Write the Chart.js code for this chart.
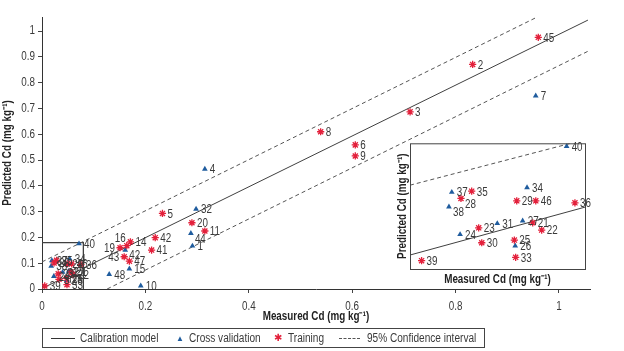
<!DOCTYPE html>
<html>
<head>
<meta charset="utf-8">
<script src="https://cdn.jsdelivr.net/npm/chart.js@4.4.1/dist/chart.umd.min.js"></script>
<style>
  html, body { margin: 0; padding: 0; background: #fff; }
  #wrap { position: relative; width: 624px; height: 351px; overflow: hidden;
          font-family: 'Liberation Sans', Arial, sans-serif; color: #3a3a3a; }
  #main  { position: absolute; left: 0; top: 0; }
  #inset { position: absolute; left: 392px; top: 138px; }
  #legend { position: absolute; left: 42px; top: 328px; width: 443px; height: 20px;
            box-sizing: border-box; border: 1px solid #444; font-size: 12px; }
  #legend span { position: absolute; top: 2px; line-height: 14px; white-space: nowrap; }
  #legend .txt { transform: scaleX(0.84); transform-origin: left center; }
  #legend .ln  { top: 9px; height: 0; border-top: 1px solid #333; }
  #legend .dsh { top: 9px; height: 0; border-top: 1px dashed #555; }
  #legend .tri { color: #1f5c9e; font-size: 8px; top: 3px; }
  #legend .ast { color: #e3203b; font-size: 10px; top: 2px; }
</style>
</head>
<body>
<div id="wrap">
  <canvas id="main" width="624" height="351"></canvas>
  <canvas id="inset" width="208" height="154"></canvas>
  <div id="legend">
    <span class="ln" style="left:8px;width:24px"></span><span class="txt" style="left:37px">Calibration model</span>
    <span class="tri" style="left:133px">▲</span><span class="txt" style="left:146px">Cross validation</span>
    <span class="ast" style="left:231px">✱</span><span class="txt" style="left:245px">Training</span>
    <span class="dsh" style="left:296px;width:21px"></span><span class="txt" style="left:324px">95% Confidence interval</span>
  </div>
</div>
<script>
// ── Data ────────────────────────────────────────────────────────────────
// Training samples (red asterisks), outside the low-value cluster
const TRAIN_ID = [45, 2, 3, 8, 6, 9, 5, 20, 11, 42, 41, 14, 16, 19, 43, 47];
const TRAIN_X  = [0.960, 0.833, 0.712, 0.539, 0.606, 0.606, 0.233, 0.290, 0.315, 0.219, 0.212, 0.171, 0.164, 0.151, 0.159, 0.169];
const TRAIN_Y  = [0.976, 0.871, 0.687, 0.610, 0.559, 0.516, 0.293, 0.257, 0.225, 0.199, 0.151, 0.183, 0.168, 0.160, 0.125, 0.108];

// Cross validation samples (blue triangles), outside the cluster
const CV_ID = [7, 4, 32, 44, 1, 42, 15, 48, 10];
const CV_X  = [0.955, 0.315, 0.298, 0.288, 0.291, 0.161, 0.169, 0.130, 0.191];
const CV_Y  = [0.749, 0.465, 0.310, 0.216, 0.167, 0.151, 0.078, 0.057, 0.012];

// Low-value cluster (shown enlarged in the inset)
const LOW_TRAIN_ID = [35, 28, 29, 46, 36, 21, 22, 23, 30, 25, 33, 39];
const LOW_TRAIN_X  = [0.0282, 0.0233, 0.0488, 0.0575, 0.0754, 0.0561, 0.0602, 0.0314, 0.0328, 0.0477, 0.0483, 0.0053];
const LOW_TRAIN_Y  = [0.1114, 0.1010, 0.0976, 0.0976, 0.0947, 0.0661, 0.0557, 0.0590, 0.0376, 0.0414, 0.0167, 0.0119];
const LOW_CV_ID = [40, 37, 38, 34, 27, 31, 24, 26];
const LOW_CV_X  = [0.0716, 0.0191, 0.0178, 0.0535, 0.0515, 0.0399, 0.0229, 0.0481];
const LOW_CV_Y  = [0.1757, 0.1100, 0.0890, 0.1167, 0.0690, 0.0652, 0.0495, 0.0333];

// Model lines [x, y] end points
const CAL_LINE   = [[0, 0.002], [1.056, 1.043]];
const UPPER_CI   = [[0, 0.105], [0.955, 1.052]];
const LOWER_CI   = [[0.126, 0], [1.06, 0.926]];
const ZOOM_BOX   = [[0, 0.18], [0.08, 0.18], [0.08, 0]];
const INSET_CAL  = [[0, 0.020], [0.08, 0.0886]];
const INSET_UCI  = [[0, 0.120], [0.0735, 0.18]];

const X_TICKS = [0, 0.2, 0.4, 0.6, 0.8, 1];
const Y_TICKS = [0, 0.1, 0.2, 0.3, 0.4, 0.5, 0.6, 0.7, 0.8, 0.9, 1];

// ── Style ───────────────────────────────────────────────────────────────
const FONT = "'Liberation Sans', Arial, sans-serif";
const NARROW = 0.82;          // squeeze text to look like Arial Narrow
const INK  = '#3a3a3a';
const RED  = '#e3203b';
const BLUE = '#1f5c9e';
const AXIS_TITLE = 'Measured Cd (mg kg⁻¹)';
const Y_TITLE    = 'Predicted Cd (mg kg⁻¹)';

// label placement: [dx, dy, align]
const SIDE = {
  r:  [5, 1, 'left'],
  dr: [4, 6, 'left'],
  l:  [-5, 1, 'right'],
  ul: [-1, -7, 'right'],
};
const MAIN_SIDES  = { T16: 'ul', T19: 'l', T43: 'l', C44: 'dr', C42: 'dr' };
const INSET_SIDES = { T28: 'dr', C38: 'dr' };

const pts = (xs, ys) => xs.map((x, i) => ({ x, y: ys[i] }));
const seg = arr => arr.map(([x, y]) => ({ x, y }));

function trainSet(ids, xs, ys) {
  return { ids, tag: 'T', data: pts(xs, ys), pointStyle: 'star', pointRadius: 3.6,
           borderColor: RED, backgroundColor: RED, pointBorderWidth: 1.3, showLine: false, order: 0 };
}
function cvSet(ids, xs, ys) {
  return { ids, tag: 'C', data: pts(xs, ys), pointStyle: 'triangle', pointRadius: 3.3,
           borderColor: BLUE, backgroundColor: BLUE, pointBorderWidth: 0, showLine: false, order: 0 };
}
function lineSet(arr, dash, width) {
  return { data: seg(arr), showLine: true, pointRadius: 0, borderColor: dash ? '#555' : '#404040',
           borderWidth: width || 1, borderDash: dash ? [4, 3] : [], fill: false, order: 1 };
}

// ── Plugins ─────────────────────────────────────────────────────────────
// condensed text: scale every fillText around its anchor point
const narrowText = {
  id: 'narrowText',
  beforeInit(chart) {
    const ctx = chart.ctx;
    const fill = ctx.fillText.bind(ctx);
    ctx.fillText = function (text, x, y) {
      ctx.save();
      ctx.translate(x, y);
      ctx.scale(NARROW, 1);
      fill(text, 0, 0);
      ctx.restore();
    };
  }
};

const pointLabels = {
  id: 'pointLabels',
  afterDatasetsDraw(chart, args, opts) {
    const ctx = chart.ctx;
    ctx.save();
    ctx.font = `12px ${FONT}`;
    ctx.fillStyle = INK;
    ctx.textBaseline = 'middle';
    chart.data.datasets.forEach((ds, i) => {
      if (!ds.ids) return;
      chart.getDatasetMeta(i).data.forEach((el, j) => {
        const [dx, dy, align] = SIDE[(opts.sides || {})[ds.tag + ds.ids[j]] || 'r'];
        ctx.textAlign = align;
        ctx.fillText(String(ds.ids[j]), el.x + dx, el.y + dy);
      });
    });
    ctx.restore();
  }
};

const areaBox = {
  id: 'areaBox',
  beforeDraw(chart, args, opts) {
    if (!opts.on) return;
    const { left, top, width, height } = chart.chartArea;
    const ctx = chart.ctx;
    ctx.save();
    ctx.fillStyle = '#fff';
    ctx.fillRect(left, top, width, height);
    ctx.restore();
  },
  afterDraw(chart, args, opts) {
    if (!opts.on) return;
    const { left, top, width, height } = chart.chartArea;
    const ctx = chart.ctx;
    ctx.save();
    ctx.strokeStyle = '#444';
    ctx.lineWidth = 1;
    ctx.strokeRect(left + 0.5, top + 0.5, width, height);
    ctx.restore();
  }
};

Chart.register(narrowText, pointLabels, areaBox);

const tickFont = { family: FONT, size: 12 };
const titleFont = { family: FONT, size: 12, weight: 'bold', lineHeight: 1.2 };
const keepTicks = list => s => { s.ticks = list.map(v => ({ value: v })); };

// ── Main chart ──────────────────────────────────────────────────────────
new Chart(document.getElementById('main'), {
  type: 'scatter',
  data: {
    datasets: [
      trainSet(TRAIN_ID, TRAIN_X, TRAIN_Y),
      cvSet(CV_ID, CV_X, CV_Y),
      trainSet(LOW_TRAIN_ID, LOW_TRAIN_X, LOW_TRAIN_Y),
      cvSet(LOW_CV_ID, LOW_CV_X, LOW_CV_Y),
      lineSet(CAL_LINE, false),
      lineSet(UPPER_CI, true),
      lineSet(LOWER_CI, true),
      lineSet(ZOOM_BOX, false, 1.3),
    ]
  },
  options: {
    responsive: false, animation: false, devicePixelRatio: 1,
    layout: { padding: { left: 0, top: 17, right: 34, bottom: 0 } },
    scales: {
      x: {
        type: 'linear', min: 0, max: 1.06,
        afterFit: s => { s.height = 62; },
        afterBuildTicks: keepTicks(X_TICKS),
        grid: { drawOnChartArea: false, drawTicks: true, tickLength: 4, color: '#444' },
        border: { color: '#333', width: 1 },
        ticks: { color: INK, font: tickFont, padding: 6, callback: v => String(v) },
        title: { display: true, text: AXIS_TITLE, color: '#222', font: titleFont, padding: { top: 0, bottom: 27 } }
      },
      y: {
        type: 'linear', min: 0, max: 1.055,
        afterFit: s => { s.width = 42; },
        afterBuildTicks: keepTicks(Y_TICKS),
        grid: { drawOnChartArea: false, drawTicks: true, tickLength: 4, color: '#444' },
        border: { color: '#333', width: 1 },
        ticks: { color: INK, font: tickFont, padding: 3, callback: v => String(v) },
        title: { display: true, text: Y_TITLE, color: '#222', font: titleFont, padding: { top: 0, bottom: 0 } }
      }
    },
    plugins: {
      legend: { display: false },
      tooltip: { enabled: false },
      pointLabels: { sides: MAIN_SIDES },
      areaBox: { on: false }
    }
  }
});

// ── Inset (enlarged low-value cluster) ──────────────────────────────────
new Chart(document.getElementById('inset'), {
  type: 'scatter',
  data: {
    datasets: [
      trainSet(LOW_TRAIN_ID, LOW_TRAIN_X, LOW_TRAIN_Y),
      cvSet(LOW_CV_ID, LOW_CV_X, LOW_CV_Y),
      lineSet(INSET_CAL, false),
      lineSet(INSET_UCI, true),
    ]
  },
  options: {
    responsive: false, animation: false, devicePixelRatio: 1,
    layout: { padding: { left: 0, top: 5, right: 15, bottom: 0 } },
    scales: {
      x: {
        type: 'linear', min: 0, max: 0.08,
        afterFit: s => { s.height = 23; },
        grid: { display: false }, border: { display: false }, ticks: { display: false },
        title: { display: true, text: AXIS_TITLE, color: '#222', font: titleFont, padding: { top: 0, bottom: 5 } }
      },
      y: {
        type: 'linear', min: 0, max: 0.18,
        afterFit: s => { s.width = 18; },
        grid: { display: false }, border: { display: false }, ticks: { display: false },
        title: { display: true, text: Y_TITLE, color: '#222', font: titleFont, padding: { top: 3, bottom: 0 } }
      }
    },
    plugins: {
      legend: { display: false },
      tooltip: { enabled: false },
      pointLabels: { sides: INSET_SIDES },
      areaBox: { on: true }
    }
  }
});
</script>
</body>
</html>
